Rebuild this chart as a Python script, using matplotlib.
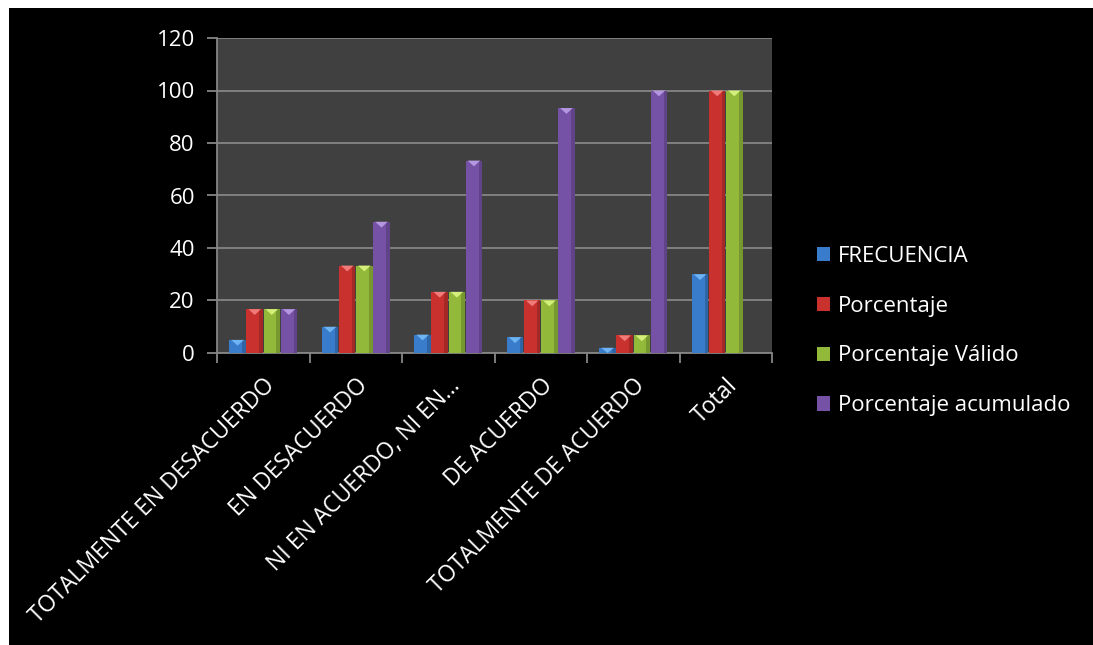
import matplotlib.pyplot as plt
import numpy as np
from matplotlib.patches import Polygon, Rectangle

categories = ['TOTALMENTE EN DESACUERDO', 'EN DESACUERDO', 'NI EN ACUERDO, NI EN...',
              'DE ACUERDO', 'TOTALMENTE DE ACUERDO', 'Total']
frecuencia = [5, 10, 7, 6, 2, 30]
porcentaje = [16.7, 33.3, 23.3, 20.0, 6.7, 100.0]
porcentaje_valido = [16.7, 33.3, 23.3, 20.0, 6.7, 100.0]
porcentaje_acum = [16.7, 50.0, 73.3, 93.3, 100.0, np.nan]

series = [
    ('FRECUENCIA', frecuencia, '#3a7ccc', '#6fb4f2'),
    ('Porcentaje', porcentaje, '#c9312f', '#f07b78'),
    ('Porcentaje Válido', porcentaje_valido, '#92b93a', '#d4ef7a'),
    ('Porcentaje acumulado', porcentaje_acum, '#7652a6', '#b596e0'),
]

plt.rcParams['font.family'] = ['Open Sans', 'DejaVu Sans']

fig = plt.figure(figsize=(10.93, 6.45), dpi=100, facecolor='white')
# black chart area, thin white margin on the top/left only
fig.patches.append(Rectangle((9 / 1093, -0.05), 1.1, 1.05 - 8 / 645,
                             transform=fig.transFigure, facecolor='black',
                             edgecolor='none', zorder=-10))

ax = fig.add_axes([217 / 1093, 1 - 353 / 645, (772 - 217) / 1093, (353 - 38) / 645])
ax.set_facecolor('#404040')

x = np.arange(len(categories))
w = 0.185
offsets = (np.arange(4) - 1.5) * w
handles = []
for (name, vals, col, light), off in zip(series, offsets):
    bars = ax.bar(x + off, vals, width=w * 0.97, color=col, edgecolor='none', zorder=3, label=name)
    handles.append(bars)
    for b in bars:
        h = b.get_height()
        if not np.isfinite(h) or h <= 0:
            continue
        bx, bw = b.get_x(), b.get_width()
        # darker right edge for the bevel look
        ax.add_patch(Rectangle((bx + bw * 0.78, 0), bw * 0.22, h, facecolor='black',
                               alpha=0.18, edgecolor='none', zorder=4))
        # light triangle on top
        th = min(2.2, h)
        ax.add_patch(Polygon([(bx + bw * 0.12, h), (bx + bw * 0.88, h), (bx + bw / 2, h - th)],
                             closed=True, facecolor=light, edgecolor='none', zorder=5))

ax.set_ylim(0, 120)
ax.set_xlim(-0.5, len(categories) - 0.5)
ax.set_yticks(range(0, 121, 20))
ax.yaxis.grid(True, color='#858585', linewidth=1.3, zorder=0)
ax.set_axisbelow(True)

ax.set_xticks(np.arange(len(categories) + 1) - 0.5)
ax.set_xticklabels([])
ax.set_xticks(x, minor=True)
ax.set_xticklabels(categories, minor=True, rotation=45, ha='right', va='top',
                   rotation_mode='anchor', color='white', fontsize=16.5)
ax.tick_params(axis='x', which='minor', length=0, pad=15)
ax.tick_params(axis='x', which='major', length=7, color='#858585', width=1.3)
ax.tick_params(axis='y', length=7, color='#858585', width=1.3, labelcolor='white',
               labelsize=16, pad=9)

for s in ['top', 'right']:
    ax.spines[s].set_visible(False)
for s in ['left', 'bottom']:
    ax.spines[s].set_color('#858585')
    ax.spines[s].set_linewidth(1.3)

leg = fig.legend(handles=handles, loc='center left', bbox_to_anchor=(797 / 1093, 1 - 331 / 645),
                 frameon=False, fontsize=16, labelcolor='white', handlelength=0.6,
                 handleheight=0.6, handletextpad=0.35, labelspacing=1.3)

fig.savefig('out.png', dpi=100, facecolor=fig.get_facecolor())
